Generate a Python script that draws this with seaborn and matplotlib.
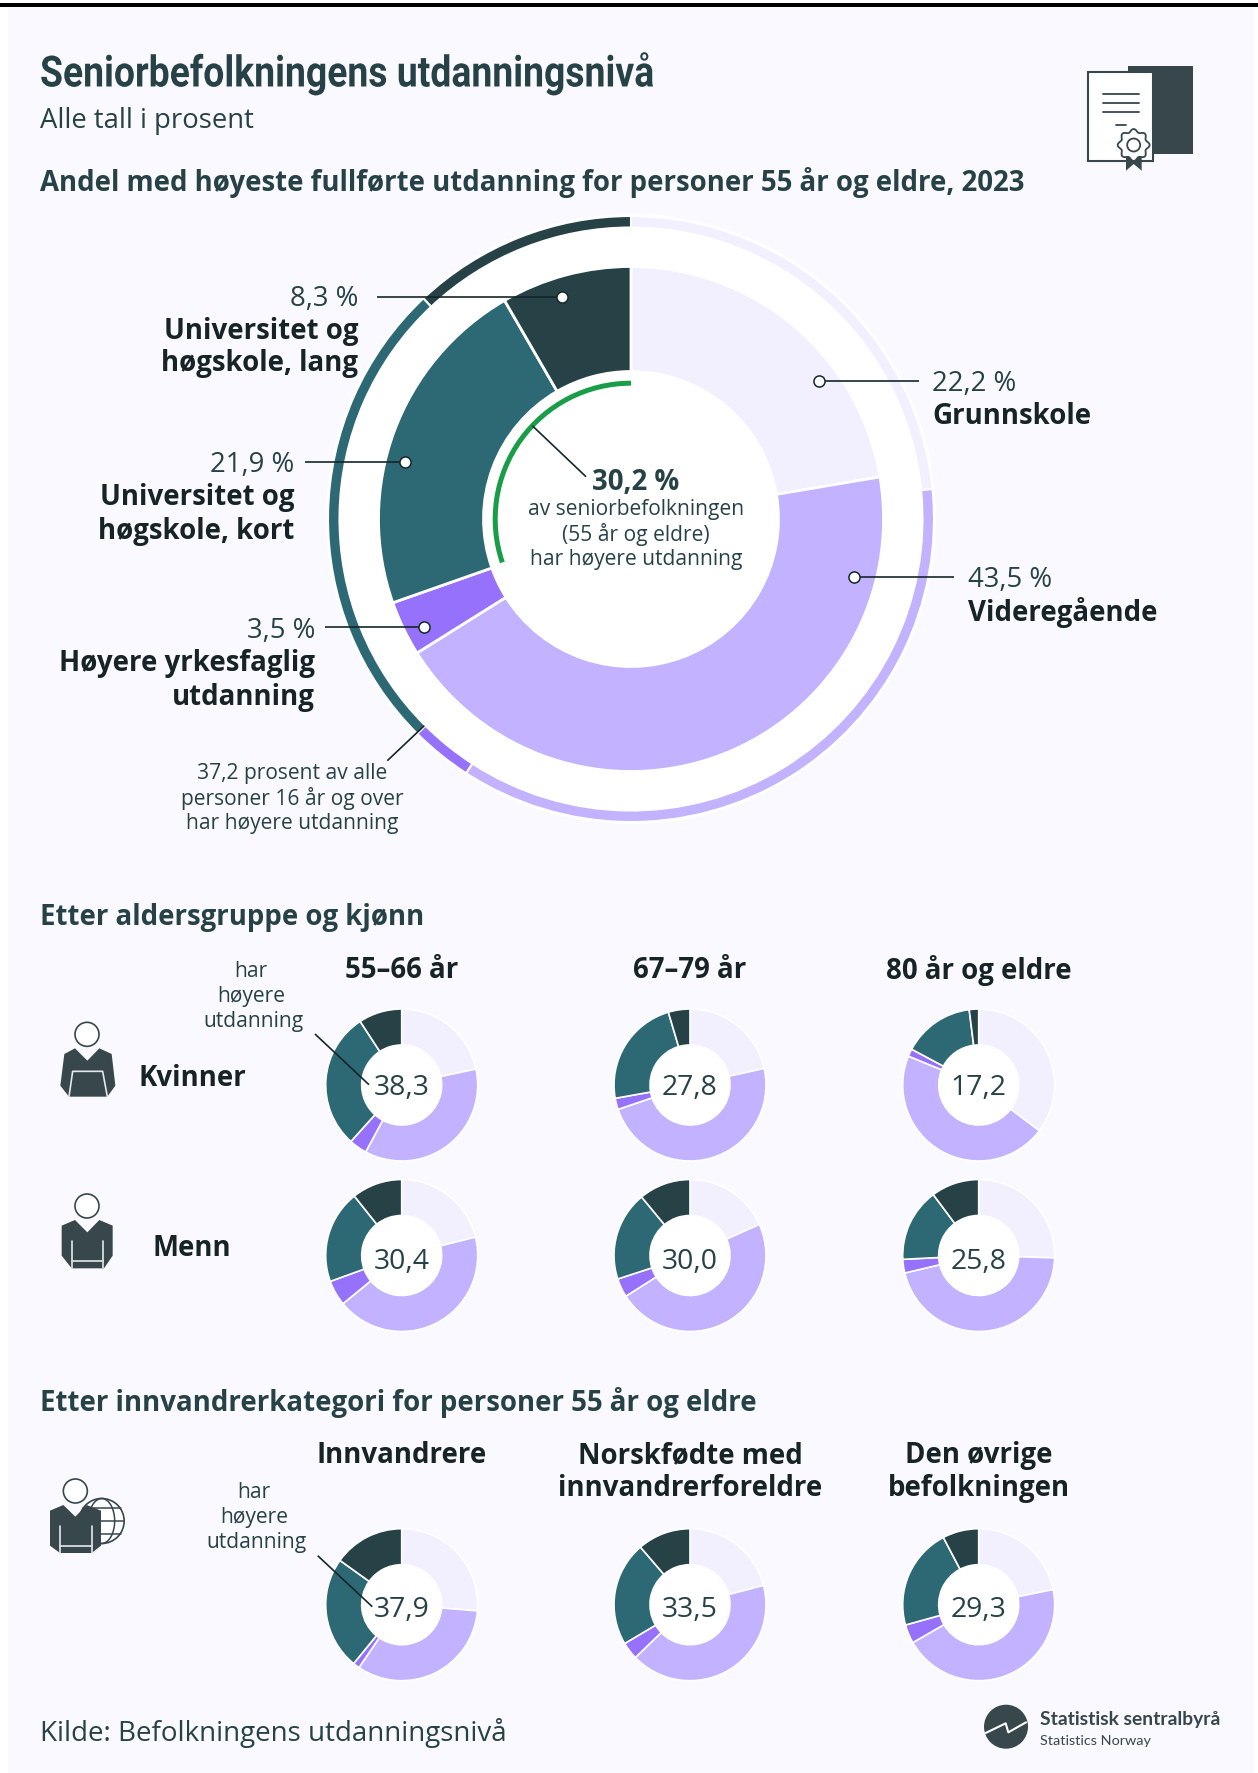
import numpy as np
import seaborn as sns
import matplotlib.pyplot as plt
import matplotlib.patheffects as pe
from matplotlib.patches import Circle, Polygon, Rectangle, Ellipse
from matplotlib.transforms import Affine2D

W, H = 1258, 1774

# shares, clockwise from the top
levels = ["Grunnskole", "Videregående", "Høyere yrkesfaglig utdanning",
          "Universitet og høgskole, kort", "Universitet og høgskole, lang"]
senior_all = [22.2, 43.5, 3.5, 21.9, 8.3]
pop_16_over = [23.4, 35.7, 3.3, 25.5, 12.0]
senior_higher = 30.2

women_5566 = [21.6, 36.2, 3.8, 29.1, 9.2]
women_6779 = [21.5, 48.3, 2.4, 23.2, 4.6]
women_80 = [35.3, 45.9, 1.6, 15.2, 2.0]
men_5566 = [21.1, 42.9, 5.4, 19.8, 10.7]
men_6779 = [18.3, 47.7, 4.0, 19.0, 11.0]
men_80 = [25.5, 45.8, 2.9, 15.6, 10.2]
immigrants = [26.3, 33.2, 1.4, 24.0, 15.1]
norw_born = [20.9, 41.8, 3.7, 22.2, 11.3]
rest_pop = [21.8, 44.9, 4.0, 21.6, 7.7]

age_labels = ["55–66 år", "67–79 år", "80 år og eldre"]
women_labels = ["38,3", "27,8", "17,2"]
men_labels = ["30,4", "30,0", "25,8"]
group_labels = ["Innvandrere", "Norskfødte med\ninnvandrerforeldre", "Den øvrige\nbefolkningen"]
imm_labels = ["37,9", "33,5", "29,3"]

BG = "#FAF9FF"
TXT = "#274247"
BOLD = "#162327"
ICON = "#37474C"
level_colors = sns.color_palette(["#F2F0FF", "#C2B2FF", "#9672FC", "#2D6975", "#274247"])

HEAD = 19.9   # bold labels and headings
NUM = 19.8    # regular numbers
SMALL = 15.1  # notes

sns.set_theme(style="white")
plt.rcParams["font.family"] = ["Open Sans", "DejaVu Sans"]

fig = plt.figure(figsize=(W / 100, H / 100), dpi=100, facecolor="white")
ax = fig.add_axes([0, 0, 1, 1])


class Squeeze(pe.AbstractPathEffect):
    # no condensed Roboto here, so narrow the title glyphs around its left edge
    def __init__(self, x0, sx):
        super().__init__()
        self.x0, self.sx = x0, sx

    def draw_path(self, renderer, gc, tpath, affine, rgbFace=None):
        squeeze = Affine2D().translate(-self.x0, 0).scale(self.sx, 1).translate(self.x0, 0)
        renderer.draw_path(gc, tpath, affine + squeeze, rgbFace)


def Y(y):
    return H - y


def donut(vals, cx, cy, r, width, lw=1.2, z=3):
    ax.pie(vals, colors=level_colors, startangle=90, counterclock=False, radius=r,
           center=(cx, Y(cy)), frame=True,
           wedgeprops=dict(width=width, edgecolor="white", linewidth=lw, zorder=z))


def txt(x, y, s, size, color=TXT, ha="left", weight="normal", **kw):
    return ax.text(x, Y(y + 2), s, fontsize=size, color=color, ha=ha, va="center", fontweight=weight,
                   zorder=10, **kw)


def line(x0, y0, x1, y1, lw=1.2):
    ax.plot([x0, x1], [Y(y0), Y(y1)], color="#16262A", lw=lw, zorder=8, solid_capstyle="butt")


def dot(x, y):
    ax.plot([x], [Y(y)], "o", ms=8, mfc="white", mec="#16262A", mew=1.1, zorder=9)


def poly(pts, ox, oy, **kw):
    # icon outlines are read in 3x zoom coordinates
    ax.add_patch(Polygon([(ox + a / 3, Y(oy + b / 3)) for a, b in pts], **kw))


def zline(pts, ox, oy, color="#E6E6EC", lw=1.2, z=6):
    ax.plot([ox + a / 3 for a, b in pts], [Y(oy + b / 3) for a, b in pts], color=color, lw=lw, zorder=z)


# panel
ax.add_patch(Rectangle((8, 0), 1246, H - 9, fc=BG, ec="none", zorder=0))
ax.add_patch(Rectangle((0, Y(7.5)), W, 3.5, fc="black", ec="none", zorder=1))

# headings
title = txt(40, 73, "Seniorbefolkningens utdanningsnivå", 31, weight="bold", family=["Roboto"])
title.set_path_effects([Squeeze(40, 0.867)])
txt(40, 119, "Alle tall i prosent", NUM)
txt(40, 180.5, "Andel med høyeste fullførte utdanning for personer 55 år og eldre, 2023", HEAD, weight="bold")
txt(40, 916, "Etter aldersgruppe og kjønn", HEAD, weight="bold")
txt(40, 1401, "Etter innvandrerkategori for personer 55 år og eldre", HEAD, weight="bold")

# main donut
MX, MY = 631, 520
ax.add_patch(Circle((MX, Y(MY)), 305, fc="white", ec="none", zorder=1))
donut(pop_16_over, MX, MY, 303, 11.5, lw=1.5, z=2)
donut(senior_all, MX, MY, 252.5, 105, lw=2, z=3)
ax.pie([senior_higher, 100 - senior_higher], colors=["#1A9D49", "white"], startangle=90, counterclock=True,
       radius=138.3, center=(MX, Y(MY)), frame=True, wedgeprops=dict(width=5, linewidth=0, zorder=4))

line(377, 297.5, 562, 297.5); dot(562, 297.5)
line(305, 462.5, 405.3, 462.5); dot(405.3, 462.5)
line(325, 627.7, 424, 627.7); dot(424, 627.7)
line(819, 382.4, 918.6, 382.4); dot(819, 382.4)
line(854, 578, 953.7, 578); dot(854, 578)
line(532.3, 426.7, 586, 477.7)
line(424.3, 726.7, 387.3, 761.7)

txt(358, 297, "8,3 %", NUM, ha="right")
txt(358, 329, "Universitet og", HEAD, BOLD, "right", "bold")
txt(358, 361.5, "høgskole, lang", HEAD, BOLD, "right", "bold")
txt(294.5, 463, "21,9 %", NUM, ha="right")
txt(294.5, 496, "Universitet og", HEAD, BOLD, "right", "bold")
txt(294.5, 529, "høgskole, kort", HEAD, BOLD, "right", "bold")
txt(315, 629, "3,5 %", NUM, ha="right")
txt(315, 662, "Høyere yrkesfaglig", HEAD, BOLD, "right", "bold")
txt(315, 696, "utdanning", HEAD, BOLD, "right", "bold")
txt(932, 382, "22,2 %", NUM)
txt(932, 415, levels[0], HEAD, BOLD, weight="bold")
txt(968, 578, "43,5 %", NUM)
txt(968, 611, levels[1], HEAD, BOLD, weight="bold")

txt(636, 480, "30,2 %", HEAD, ha="center", weight="bold")
txt(636, 508, "av seniorbefolkningen", SMALL, ha="center")
txt(636, 532.5, "(55 år og eldre)", SMALL, ha="center")
txt(636, 558, "har høyere utdanning", SMALL, ha="center")

txt(292, 772, "37,2 prosent av alle", SMALL, ha="center")
txt(292.5, 797, "personer 16 år og over", SMALL, ha="center")
txt(292.5, 822, "har høyere utdanning", SMALL, ha="center")

# small donuts
COLS = [401.7, 690, 978.7]
rows = [(1086, [women_5566, women_6779, women_80], women_labels, 0),
        (1256.5, [men_5566, men_6779, men_80], men_labels, 3.5),
        (1605.7, [immigrants, norw_born, rest_pop], imm_labels, 2.5)]
for cy, series, labels, shift in rows:
    for cx, vals, lab in zip(COLS, series, labels):
        ax.add_patch(Circle((cx, Y(cy)), 40, fc="white", ec="none", zorder=2))
        donut(vals, cx, cy, 76, 36, lw=1.2)
        txt(cx, cy + shift, lab, 20.4, ha="center")

for cx, lab in zip(COLS, age_labels):
    txt(cx, 968, lab, HEAD, BOLD, "center", "bold")
for cx, lab in zip(COLS, group_labels):
    for i, part in enumerate(lab.split("\n")):
        txt(cx, 1454 + i * 33, part, HEAD, BOLD, "center", "bold")

txt(192, 1076, "Kvinner", HEAD, BOLD, "center", "bold")
txt(192, 1247, "Menn", HEAD, BOLD, "center", "bold")

for y, part in zip([969.5, 994.5, 1019], ["har", "høyere", "utdanning"]):
    txt({"har": 251, "høyere": 251, "utdanning": 253.5}[part], y, part, SMALL, ha="center")
line(315, 1035, 369, 1085.7)
for y, part in zip([1490.5, 1516, 1541], ["har", "høyere", "utdanning"]):
    txt({"har": 254, "høyere": 254, "utdanning": 256.5}[part], y, part, SMALL, ha="center")
line(317.7, 1556.7, 372.3, 1607.7)

# icons: woman
ox, oy = 30, 960
ax.add_patch(Circle((ox + 171 / 3, Y(oy + 226 / 3)), 12, fc="white", ec=ICON, lw=1.2, zorder=5))
poly([(135, 268), (172, 305), (208, 268), (245, 285), (256, 380), (232, 413), (117, 413), (91, 380), (103, 285)],
     ox, oy, fc=ICON, ec="none", zorder=5)
zline([(117, 413), (128, 337), (218, 337), (232, 413)], ox, oy)

# icons: man
ax.add_patch(Circle((ox + 171 / 3, Y(oy + 741 / 3)), 12, fc="white", ec=ICON, lw=1.2, zorder=5))
poly([(135, 783), (172, 820), (208, 783), (248, 800), (248, 890), (222, 928), (125, 928), (95, 890), (95, 800)],
     ox, oy, fc=ICON, ec="none", zorder=5)
zline([(125, 846), (125, 928)], ox, oy)
zline([(220, 846), (220, 928)], ox, oy)
zline([(125, 905), (220, 905)], ox, oy)

# icons: immigrant with globe
ox, oy = 30, 1430
gx, gy = ox + 215 / 3, Y(oy + 276 / 3)
ax.add_patch(Circle((gx, gy), 22.5, fc="white", ec=ICON, lw=1.2, zorder=4))
ax.add_patch(Ellipse((gx, gy), 26, 45, fc="none", ec=ICON, lw=1.1, zorder=4))
zline([(160, 237), (272, 237)], ox, oy, ICON, 1.1, 4)
zline([(150, 276), (283, 276)], ox, oy, ICON, 1.1, 4)
zline([(160, 315), (272, 315)], ox, oy, ICON, 1.1, 4)
ax.add_patch(Circle((ox + 136 / 3, Y(oy + 186 / 3)), 12, fc="white", ec=ICON, lw=1.2, zorder=5))
poly([(100, 228), (136, 263), (170, 228), (213, 245), (213, 350), (185, 372), (90, 372), (60, 350), (60, 245)],
     ox, oy, fc=ICON, ec="none", zorder=5)
zline([(89, 290), (89, 372)], ox, oy)
zline([(185, 290), (185, 372)], ox, oy)
zline([(89, 350), (185, 350)], ox, oy)

# icons: diploma
ox, oy = 1060, 50
poly([(205, 50), (398, 50), (398, 316), (205, 316)], ox, oy, fc=ICON, ec="none", zorder=4)
poly([(85, 70), (278, 70), (278, 335), (85, 335)], ox, oy, fc="white", ec=ICON, lw=1.5, zorder=5)
for yy in [135, 163, 190]:
    zline([(128, yy), (238, yy)], ox, oy, ICON, 1.3)
zline([(167, 229), (198, 229)], ox, oy, ICON, 1.3)
poly([(198, 318), (245, 318), (245, 365), (221, 345), (198, 365)], ox, oy, fc=ICON, ec="none", zorder=6)
ang = np.linspace(0, 2 * np.pi, 97)
rad = 14.5 + 1.5 * np.cos(8 * ang)
ax.add_patch(Polygon(np.column_stack([ox + 221 / 3 + rad * np.cos(ang), Y(oy + 288 / 3) + rad * np.sin(ang)]),
                     fc="white", ec=ICON, lw=1.3, zorder=7))
ax.add_patch(Circle((ox + 221 / 3, Y(oy + 288 / 3)), 6.5, fc="white", ec=ICON, lw=1.3, zorder=8))

# source and logo
txt(40, 1731, "Kilde: Befolkningens utdanningsnivå", 19.95)
ax.add_patch(Circle((1006, Y(1727.7)), 22, fc=ICON, ec="none", zorder=4))
ox, oy = 940, 1670
zline([(137, 192), (197, 163), (205, 190), (258, 160)], ox, oy, "white", 1.5)
txt(1040, 1718, "Statistisk sentralbyrå", 13.9, ICON, weight="bold", family=["Lato", "DejaVu Sans"])
txt(1040, 1739, "Statistics Norway", 10.4, ICON, family=["Lato", "DejaVu Sans"])

ax.set_xlim(0, W)
ax.set_ylim(0, H)
ax.axis("off")
fig.savefig("out.png", dpi=100, facecolor="white")
